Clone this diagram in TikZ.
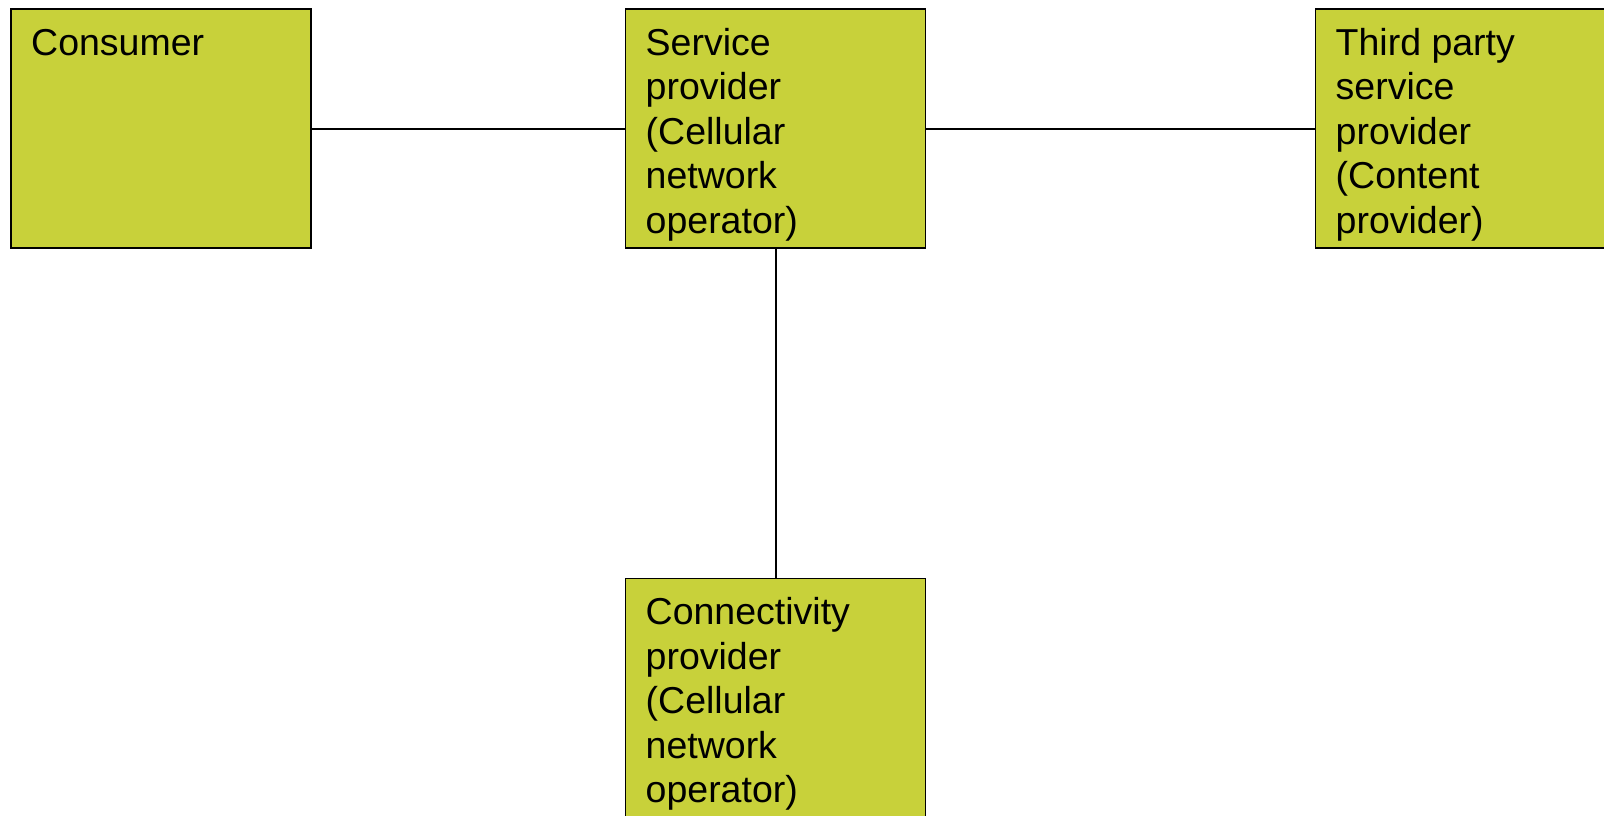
\documentclass[tikz,border=0pt]{standalone}
\usepackage{fontspec}
\setmainfont{Liberation Sans}
\usepackage{xcolor}
\usepackage{tikz}
\usetikzlibrary{positioning}
\definecolor{boxgreen}{RGB}{200,209,58}
\tikzstyle{block} = [rectangle, draw, fill=boxgreen, line width=1.6pt,
    minimum width=300pt, minimum height=239pt, inner sep=0pt, outer sep=0pt]
\tikzstyle{caption} = [anchor=base west, inner sep=0pt,
    font=\fontsize{37.5}{44.5}\selectfont]
\tikzstyle{line} = [draw, line width=2pt]
% first line of the text sits on the node's base
\newcommand{\roletext}[1]{\parbox[t]{270pt}{\raggedright #1}}

\begin{document}
\begin{tikzpicture}[node distance=315pt]
            \useasboundingbox (0pt,0pt) rectangle (1604pt,-815pt);
            % Roles
            \node [block, anchor=north west] (consumer) at (11pt,-9pt) {};
            \node [block] (service) [right=314.5pt of consumer] {};
            \node [block] (thirdparty) [right=390pt of service] {};
            \node [block] (connectivity) [below=330.5pt of service] {};

            % Texts
            \node [caption] (consumertxt) at ([xshift=20pt,yshift=-46pt]consumer.north west)
                {\roletext{Consumer}};
            \node [caption] (servicetxt) at ([xshift=20pt,yshift=-46pt]service.north west)
                {\roletext{Service\\provider\\(Cellular\\network\\operator)}};
            \node [caption] (thirdpartytxt) at ([xshift=20pt,yshift=-46pt]thirdparty.north west)
                {\roletext{Third party\\service\\provider\\(Content\\provider)}};
            \node [caption] (connectivitytxt) at ([xshift=20pt,yshift=-46pt]connectivity.north west)
                {\roletext{Connectivity\\provider\\(Cellular\\network\\operator)}};

            % Connect everything
            \path [line] (consumer) -- (service);
            \path [line] (service) -- (thirdparty);
            \path [line] (service) -- (connectivity);
        \end{tikzpicture}
\end{document}
